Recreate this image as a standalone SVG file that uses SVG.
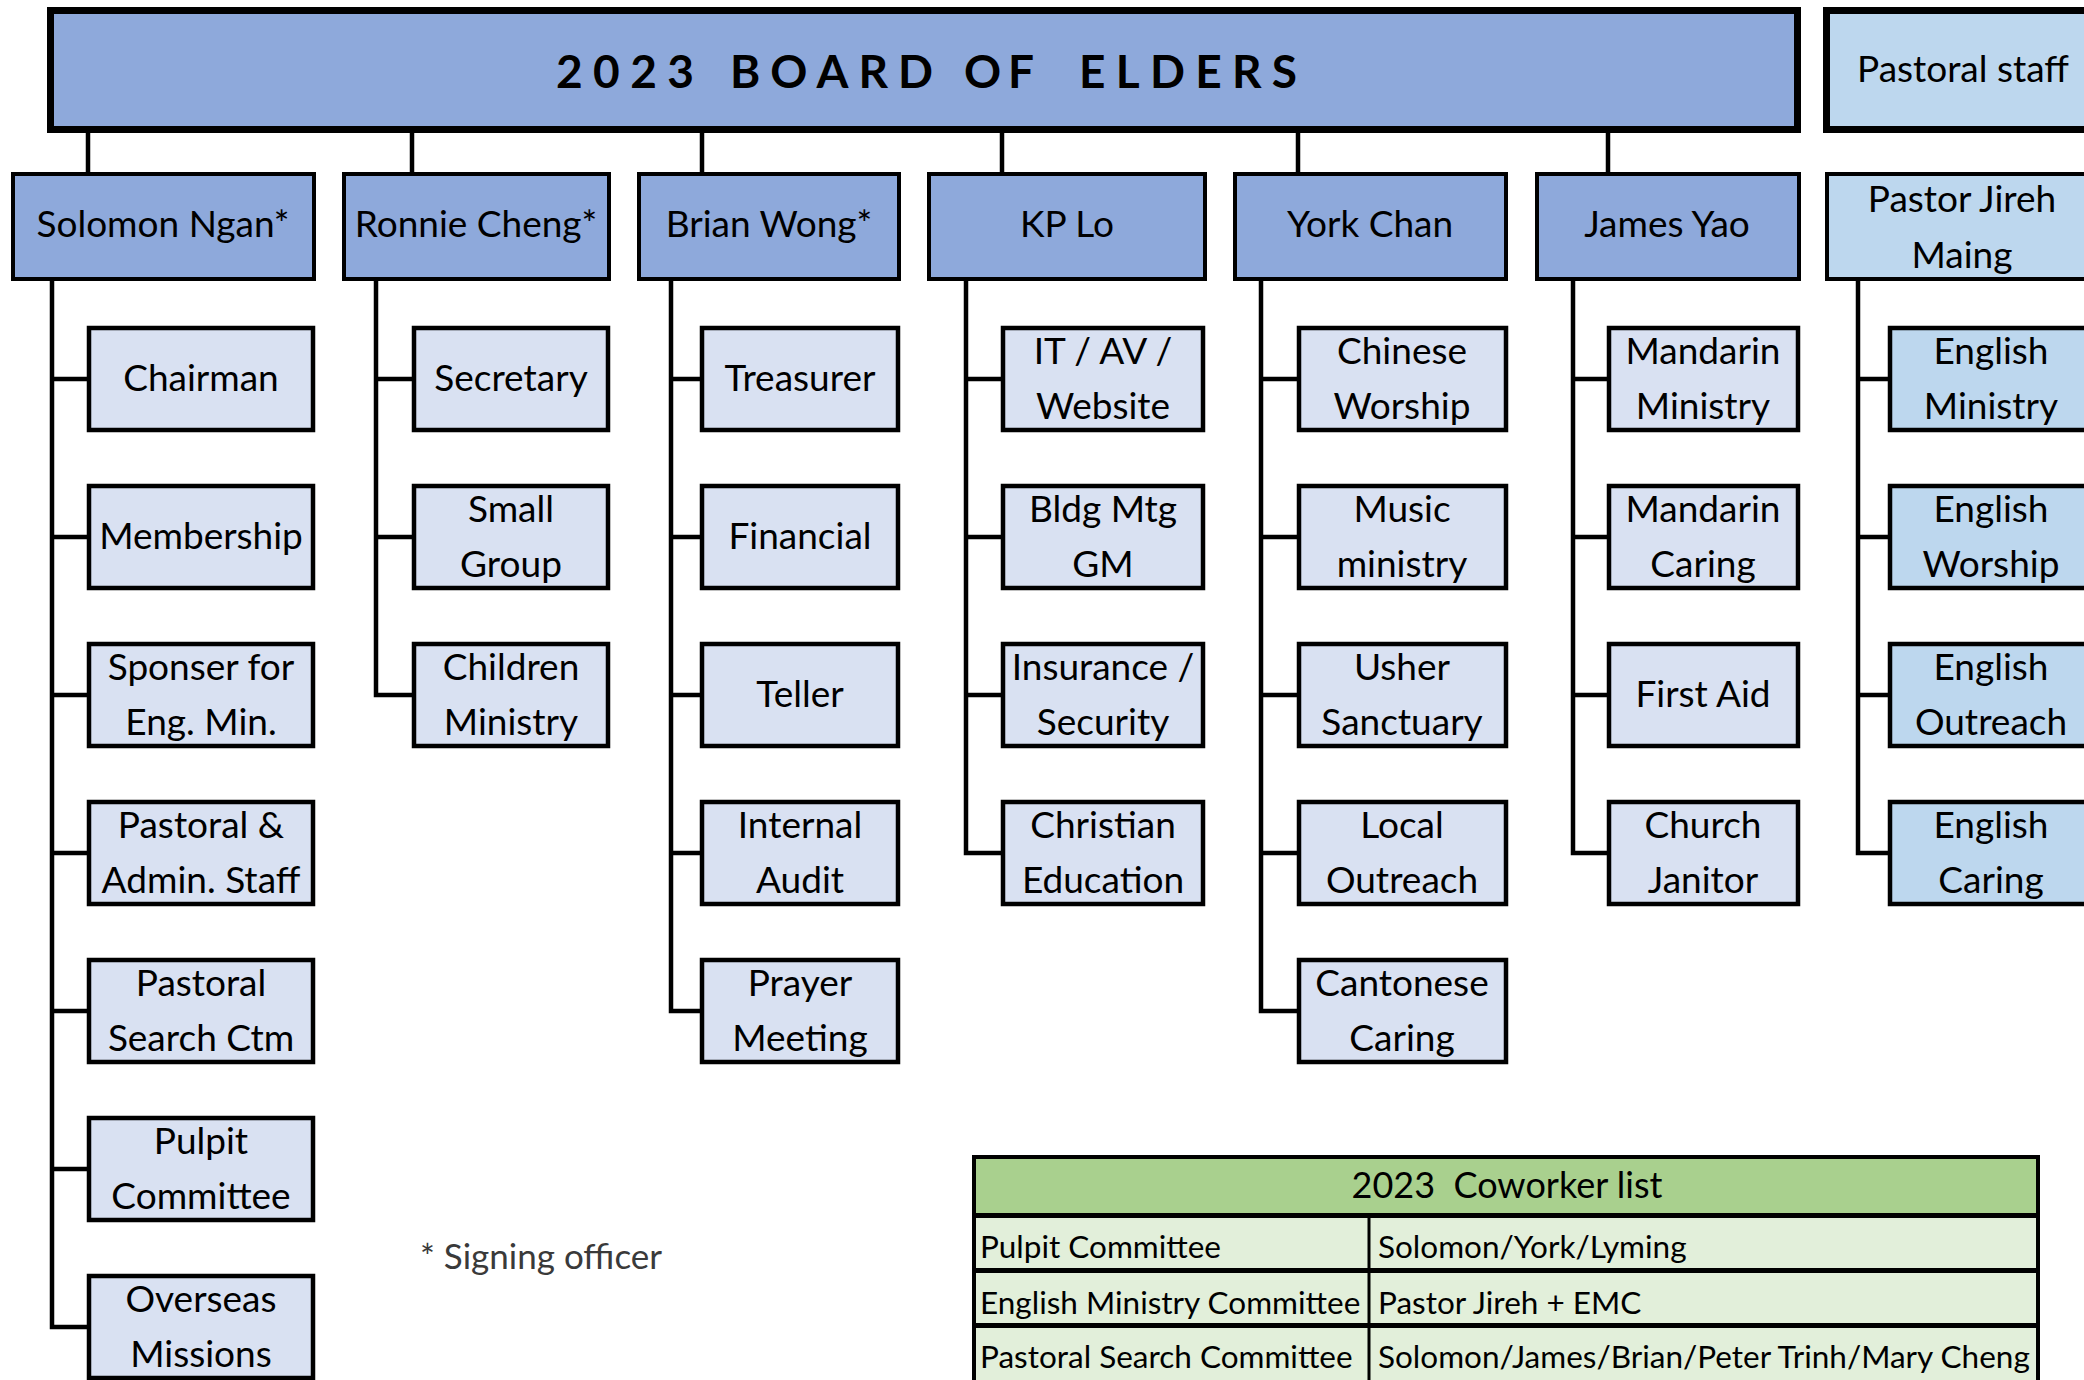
<svg xmlns="http://www.w3.org/2000/svg" width="2084" height="1380" viewBox="0 0 2084 1380">
<style>
text{font-family:Lato,"Open Sans","Liberation Sans",sans-serif;fill:#000;}
.t{font-size:37px;text-anchor:middle;}
.title{font-size:46px;font-weight:bold;}
.top{fill:#8EA9DB;stroke:#000;stroke-width:7;}
.ps{fill:#BDD7EE;stroke:#000;stroke-width:7;}
.l2{fill:#8EA9DB;stroke:#000;stroke-width:4;}
.l2p{fill:#BDD7EE;stroke:#000;stroke-width:4;}
.l3{fill:#D9E1F2;stroke:#000;stroke-width:4.5;}
.l3p{fill:#BDD7EE;stroke:#000;stroke-width:4.5;}
.c{fill:none;stroke:#000;stroke-width:4.5;}
.tb{font-size:31.5px;}
.note{font-size:35px;fill:#3a3a3a;}
</style>
<g id="connectors">
<path class="c" d="M88 133V174M412 133V174M702 133V174M1002 133V174M1298 133V174M1608 133V174"/>
<path class="c" d="M52 279V1327H89M52 379H89M52 537H89M52 695H89M52 853H89M52 1011H89M52 1169H89"/>
<path class="c" d="M376 279V695H414M376 379H414M376 537H414"/>
<path class="c" d="M671 279V1011H702M671 379H702M671 537H702M671 695H702M671 853H702"/>
<path class="c" d="M966 279V853H1003M966 379H1003M966 537H1003M966 695H1003"/>
<path class="c" d="M1261 279V1011H1299M1261 379H1299M1261 537H1299M1261 695H1299M1261 853H1299"/>
<path class="c" d="M1573 279V853H1609M1573 379H1609M1573 537H1609M1573 695H1609"/>
<path class="c" d="M1858 279V853H1890M1858 379H1890M1858 537H1890M1858 695H1890"/>
</g>
<g id="board">
<rect class="top" x="50.5" y="10.5" width="1747" height="119"/>
<text class="title" x="556" y="88" textLength="138" lengthAdjust="spacing">2023</text>
<text class="title" x="730" y="88" textLength="203" lengthAdjust="spacing">BOARD</text>
<text class="title" x="964" y="88" textLength="70" lengthAdjust="spacing">OF</text>
<text class="title" x="1079" y="88" textLength="218" lengthAdjust="spacing">ELDERS</text>
</g>
<g id="pastoral-staff">
<rect class="ps" x="1826.5" y="10.5" width="280" height="119"/>
<text class="t" x="1963" y="82" font-size="38">Pastoral staff</text>
</g>
<g id="solomon"><rect class="l2" x="13" y="174" width="301" height="105"/><text class="t" x="163" y="237">Solomon Ngan*</text></g>
<g id="ronnie"><rect class="l2" x="344" y="174" width="265" height="105"/><text class="t" x="476" y="237">Ronnie Cheng*</text></g>
<g id="brian"><rect class="l2" x="639" y="174" width="260" height="105"/><text class="t" x="769" y="237">Brian Wong*</text></g>
<g id="kplo"><rect class="l2" x="929" y="174" width="276" height="105"/><text class="t" x="1067" y="237">KP Lo</text></g>
<g id="york"><rect class="l2" x="1235" y="174" width="271" height="105"/><text class="t" x="1370" y="237">York Chan</text></g>
<g id="james"><rect class="l2" x="1537" y="174" width="262" height="105"/><text class="t" x="1667" y="237">James Yao</text></g>
<g id="jireh"><rect class="l2p" x="1827" y="174" width="272" height="105"/><text class="t" x="1962" y="212">Pastor Jireh</text><text class="t" x="1962" y="268">Maing</text></g>

<g id="chairman"><rect class="l3" x="89" y="328" width="224" height="102"/><text class="t" x="201" y="391">Chairman</text></g>
<g id="membership"><rect class="l3" x="89" y="486" width="224" height="102"/><text class="t" x="201" y="549">Membership</text></g>
<g id="sponser"><rect class="l3" x="89" y="644" width="224" height="102"/><text class="t" x="201" y="680">Sponser for</text><text class="t" x="201" y="735">Eng. Min.</text></g>
<g id="pastoral-admin"><rect class="l3" x="89" y="802" width="224" height="102"/><text class="t" x="201" y="838">Pastoral &amp;</text><text class="t" x="201" y="893">Admin. Staff</text></g>
<g id="pastoral-search"><rect class="l3" x="89" y="960" width="224" height="102"/><text class="t" x="201" y="996">Pastoral</text><text class="t" x="201" y="1051">Search Ctm</text></g>
<g id="pulpit"><rect class="l3" x="89" y="1118" width="224" height="102"/><text class="t" x="201" y="1154">Pulpit</text><text class="t" x="201" y="1209">Committee</text></g>
<g id="overseas"><rect class="l3" x="89" y="1276" width="224" height="102"/><text class="t" x="201" y="1312">Overseas</text><text class="t" x="201" y="1367">Missions</text></g>

<g id="secretary"><rect class="l3" x="414" y="328" width="194" height="102"/><text class="t" x="511" y="391">Secretary</text></g>
<g id="smallgroup"><rect class="l3" x="414" y="486" width="194" height="102"/><text class="t" x="511" y="522">Small</text><text class="t" x="511" y="577">Group</text></g>
<g id="children"><rect class="l3" x="414" y="644" width="194" height="102"/><text class="t" x="511" y="680">Children</text><text class="t" x="511" y="735">Ministry</text></g>

<g id="treasurer"><rect class="l3" x="702" y="328" width="196" height="102"/><text class="t" x="800" y="391">Treasurer</text></g>
<g id="financial"><rect class="l3" x="702" y="486" width="196" height="102"/><text class="t" x="800" y="549">Financial</text></g>
<g id="teller"><rect class="l3" x="702" y="644" width="196" height="102"/><text class="t" x="800" y="707">Teller</text></g>
<g id="audit"><rect class="l3" x="702" y="802" width="196" height="102"/><text class="t" x="800" y="838">Internal</text><text class="t" x="800" y="893">Audit</text></g>
<g id="prayer"><rect class="l3" x="702" y="960" width="196" height="102"/><text class="t" x="800" y="996">Prayer</text><text class="t" x="800" y="1051">Meeting</text></g>

<g id="itav"><rect class="l3" x="1003" y="328" width="200" height="102"/><text class="t" x="1103" y="364">IT / AV /</text><text class="t" x="1103" y="419">Website</text></g>
<g id="bldg"><rect class="l3" x="1003" y="486" width="200" height="102"/><text class="t" x="1103" y="522">Bldg Mtg</text><text class="t" x="1103" y="577">GM</text></g>
<g id="insurance"><rect class="l3" x="1003" y="644" width="200" height="102"/><text class="t" x="1103" y="680">Insurance /</text><text class="t" x="1103" y="735">Security</text></g>
<g id="christian-ed"><rect class="l3" x="1003" y="802" width="200" height="102"/><text class="t" x="1103" y="838">Christian</text><text class="t" x="1103" y="893">Education</text></g>

<g id="chinese-worship"><rect class="l3" x="1299" y="328" width="207" height="102"/><text class="t" x="1402" y="364">Chinese</text><text class="t" x="1402" y="419">Worship</text></g>
<g id="music"><rect class="l3" x="1299" y="486" width="207" height="102"/><text class="t" x="1402" y="522">Music</text><text class="t" x="1402" y="577">ministry</text></g>
<g id="usher"><rect class="l3" x="1299" y="644" width="207" height="102"/><text class="t" x="1402" y="680">Usher</text><text class="t" x="1402" y="735">Sanctuary</text></g>
<g id="local-outreach"><rect class="l3" x="1299" y="802" width="207" height="102"/><text class="t" x="1402" y="838">Local</text><text class="t" x="1402" y="893">Outreach</text></g>
<g id="cantonese"><rect class="l3" x="1299" y="960" width="207" height="102"/><text class="t" x="1402" y="996">Cantonese</text><text class="t" x="1402" y="1051">Caring</text></g>

<g id="mandarin-ministry"><rect class="l3" x="1609" y="328" width="189" height="102"/><text class="t" x="1703" y="364">Mandarin</text><text class="t" x="1703" y="419">Ministry</text></g>
<g id="mandarin-caring"><rect class="l3" x="1609" y="486" width="189" height="102"/><text class="t" x="1703" y="522">Mandarin</text><text class="t" x="1703" y="577">Caring</text></g>
<g id="firstaid"><rect class="l3" x="1609" y="644" width="189" height="102"/><text class="t" x="1703" y="707">First Aid</text></g>
<g id="janitor"><rect class="l3" x="1609" y="802" width="189" height="102"/><text class="t" x="1703" y="838">Church</text><text class="t" x="1703" y="893">Janitor</text></g>

<g id="english-ministry"><rect class="l3p" x="1890" y="328" width="210" height="102"/><text class="t" x="1991" y="364">English</text><text class="t" x="1991" y="419">Ministry</text></g>
<g id="english-worship"><rect class="l3p" x="1890" y="486" width="210" height="102"/><text class="t" x="1991" y="522">English</text><text class="t" x="1991" y="577">Worship</text></g>
<g id="english-outreach"><rect class="l3p" x="1890" y="644" width="210" height="102"/><text class="t" x="1991" y="680">English</text><text class="t" x="1991" y="735">Outreach</text></g>
<g id="english-caring"><rect class="l3p" x="1890" y="802" width="210" height="102"/><text class="t" x="1991" y="838">English</text><text class="t" x="1991" y="893">Caring</text></g>

<text class="note" x="420" y="1269">* Signing officer</text>

<g id="coworker-table">
<rect x="972" y="1155" width="1068" height="61" fill="#A9D08E"/>
<rect x="972" y="1216" width="1068" height="170" fill="#E2EFDA"/>
<path fill="none" stroke="#000" stroke-width="4" d="M974 1390V1157H2038V1390"/>
<path fill="none" stroke="#000" stroke-width="5" d="M972 1215.5H2040M972 1270.5H2040M972 1325.5H2040"/>
<path fill="none" stroke="#000" stroke-width="3" d="M1369 1216V1390"/>
<text x="1507" y="1198" font-size="36" text-anchor="middle" xml:space="preserve">2023  Coworker list</text>
<text class="tb" x="980" y="1258">Pulpit Committee</text>
<text class="tb" x="1378" y="1258">Solomon/York/Lyming</text>
<text class="tb" x="980" y="1314">English Ministry Committee</text>
<text class="tb" x="1378" y="1314">Pastor Jireh + EMC</text>
<text class="tb" x="980" y="1368">Pastoral Search Committee</text>
<text class="tb" x="1378" y="1368">Solomon/James/Brian/Peter Trinh/Mary Cheng</text>
</g>
</svg>
